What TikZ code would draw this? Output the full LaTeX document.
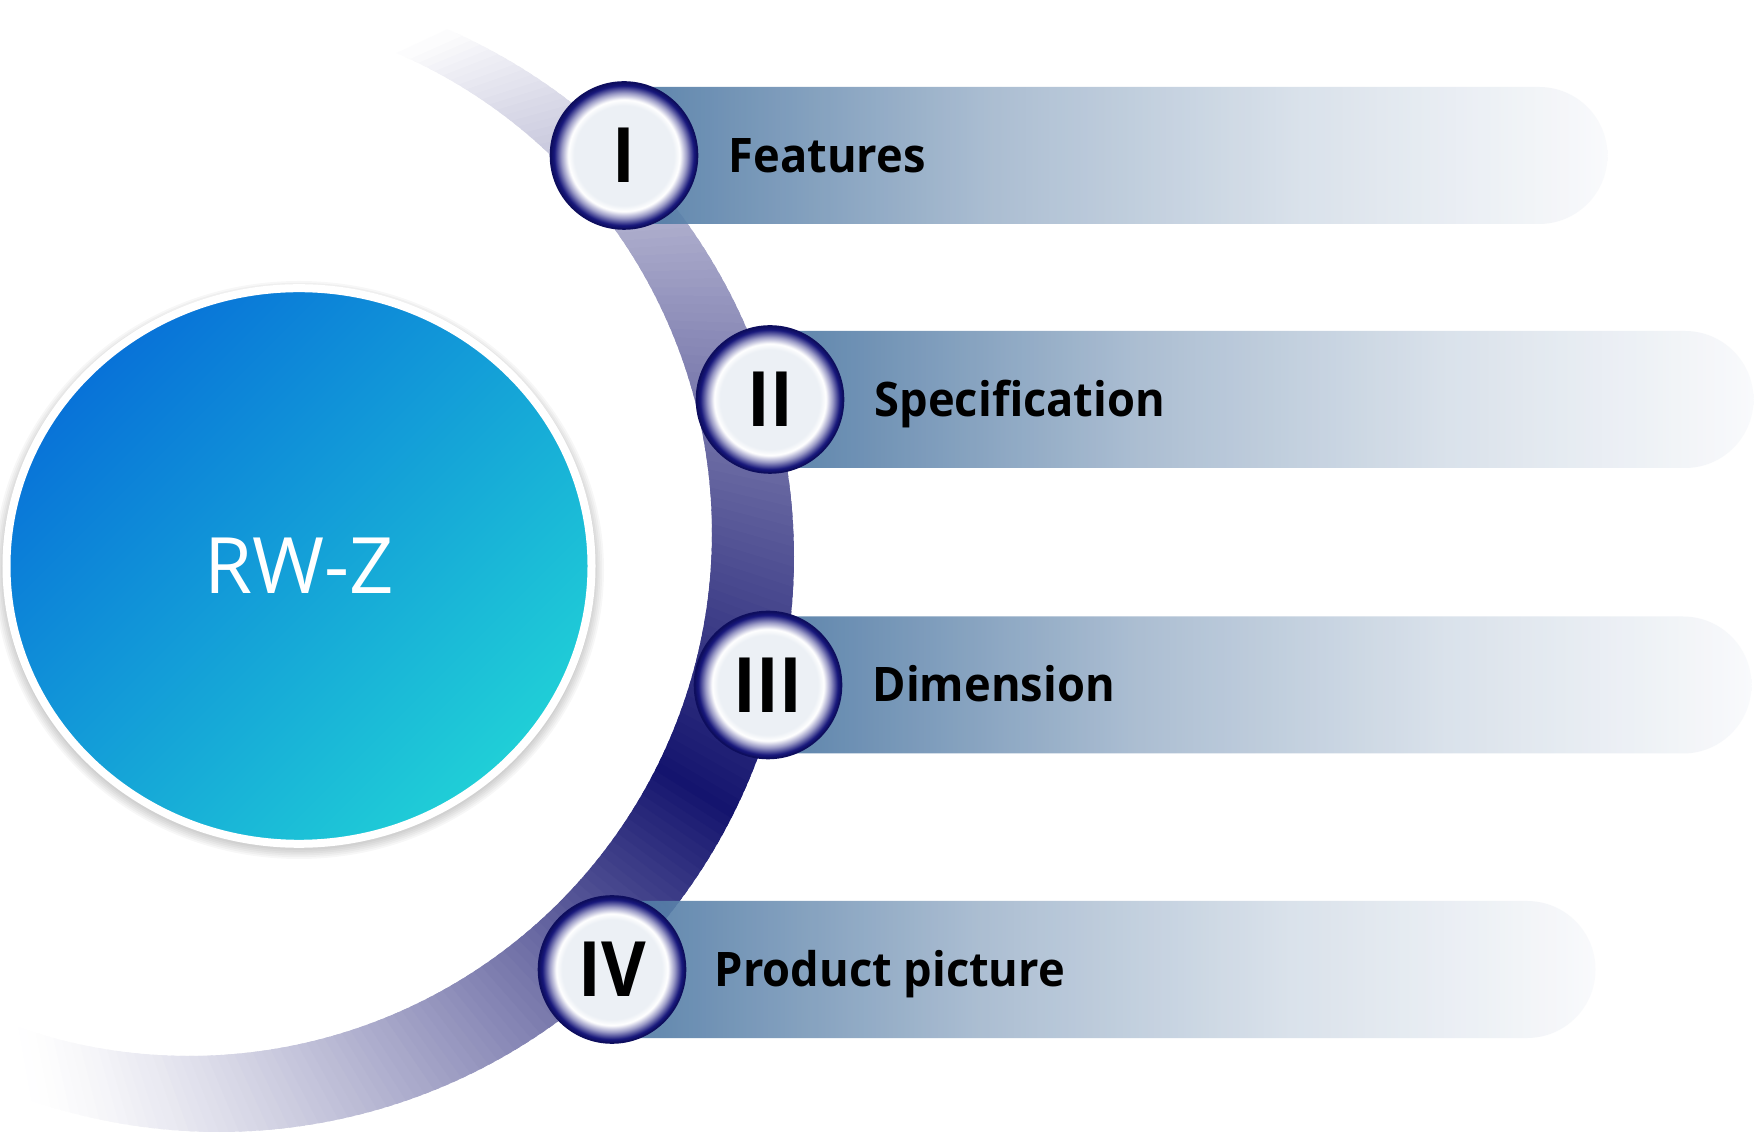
\documentclass[tikz,border=0pt]{standalone}
\usepackage{fontspec}
\setmainfont{Open Sans}
\newfontfamily\narrowfont[FakeStretch=0.95]{Open Sans}
\newfontfamily\ballfont[FakeStretch=0.9]{Open Sans}
\usetikzlibrary{positioning,shapes.geometric}

\definecolor{bandnavy}{HTML}{14146E}
\definecolor{ballcore}{HTML}{ECF0F5}
\definecolor{ballmid}{HTML}{9A9AC6}
\definecolor{ballnavy}{HTML}{16167A}
\definecolor{ballrim}{HTML}{0E0E5E}
\definecolor{barblue}{HTML}{4A76A2}
\definecolor{barmid}{HTML}{A4B8CE}
\definecolor{barlight}{HTML}{D6DFE9}
\definecolor{barend}{HTML}{F9FAFC}
\definecolor{rwzblue}{HTML}{0872D8}
\definecolor{rwzcyan}{HTML}{20CFD7}

\pgfdeclareradialshading{romanball}{\pgfpointorigin}{color(0bp)=(ballcore); color(17bp)=(ballcore); color(19bp)=(white); color(21.3bp)=(ballmid); color(23.8bp)=(ballnavy); color(25bp)=(ballrim); color(50bp)=(ballrim)}
\pgfdeclarehorizontalshading{barshade}{100bp}{color(0bp)=(barblue); color(25bp)=(barblue); color(44bp)=(barmid); color(59.5bp)=(barlight); color(75bp)=(barend); color(100bp)=(barend)}

\begin{document}
\begin{tikzpicture}[x=0.5pt, y=0.5pt,
  numball/.style={circle, minimum size=73.5pt, inner sep=0pt, shade, shading=romanball,
    draw=ballrim, line width=0.8pt, font=\ballfont\bfseries\fontsize{38.2}{38.2}\selectfont},
  lbl/.style={inner sep=0pt, text height=17pt, text depth=0pt,
    font=\narrowfont\bfseries\fontsize{23.8}{24}\selectfont},
  bar/.style={shading=barshade, fill opacity=0.9},
  hubdisc/.style={ellipse, minimum width=292.5pt, minimum height=277.8pt, inner sep=0pt,
    draw=white, line width=4pt, top color=rwzblue, bottom color=rwzcyan, shading angle=45,
    text=white, font=\fontsize{38.9}{39}\selectfont}]

  % Canvas
  \fill[white] (0,0) rectangle (1755,1135);
  \useasboundingbox (0,0) rectangle (1755,1135);

  % Anchor points
  \coordinate (p1) at (624,979.5);
  \coordinate (p2) at (770,735.5);
  \coordinate (p3) at (768,450);
  \coordinate (p4) at (612,165.5);
  \coordinate (hubc) at (299,569);
  \coordinate (bandin) at (189,602);
  \coordinate (bandout) at (219,578);

  % Curved band
  \foreach \a in {-109,...,65} {
    \pgfmathsetmacro\p{ifthenelse(\a>-27.5, 100*((66-(\a))/93)^0.95, 100*(((\a)+110)/83)^1.4)}
    \fill[bandnavy!\p!white] ([shift={(\a:523)}]bandin) -- ([shift={(\a+1.6:523)}]bandin)
      -- ([shift={(\a+1.6:575)}]bandout) -- ([shift={(\a:575)}]bandout) -- cycle;
  }

  % Bars
  \foreach \i in {1,...,4}
    \shade[bar] ([yshift=34.25pt]p\i) -- ++(915,0) arc[start angle=90, end angle=-90, radius=34.25pt]
      -- ([yshift=-34.25pt]p\i) -- cycle;

  % Hub disc
  \foreach \k in {0,...,5}
    \fill[black, opacity=0.03] ([yshift=-2pt]hubc) ellipse[x radius=148pt+\k*0.9pt, y radius=140pt+\k*0.9pt];
  \node[hubdisc] (hub) at (hubc) {RW-Z};

  % Numbered balls
  \node[numball] (c1) at (p1) {I};
  \node[numball] (c2) at (p2) {II};
  \node[numball] (c3) at (p3) {III};
  \node[numball] (c4) at (p4) {IV};

  % Labels
  \node[lbl, right=15pt of c1] (t1) {Features};
  \node[lbl, right=15pt of c2] (t2) {Specification};
  \node[lbl, right=15pt of c3] (t3) {Dimension};
  \node[lbl, right=14pt of c4] (t4) {Product picture};

\end{tikzpicture}
\end{document}
